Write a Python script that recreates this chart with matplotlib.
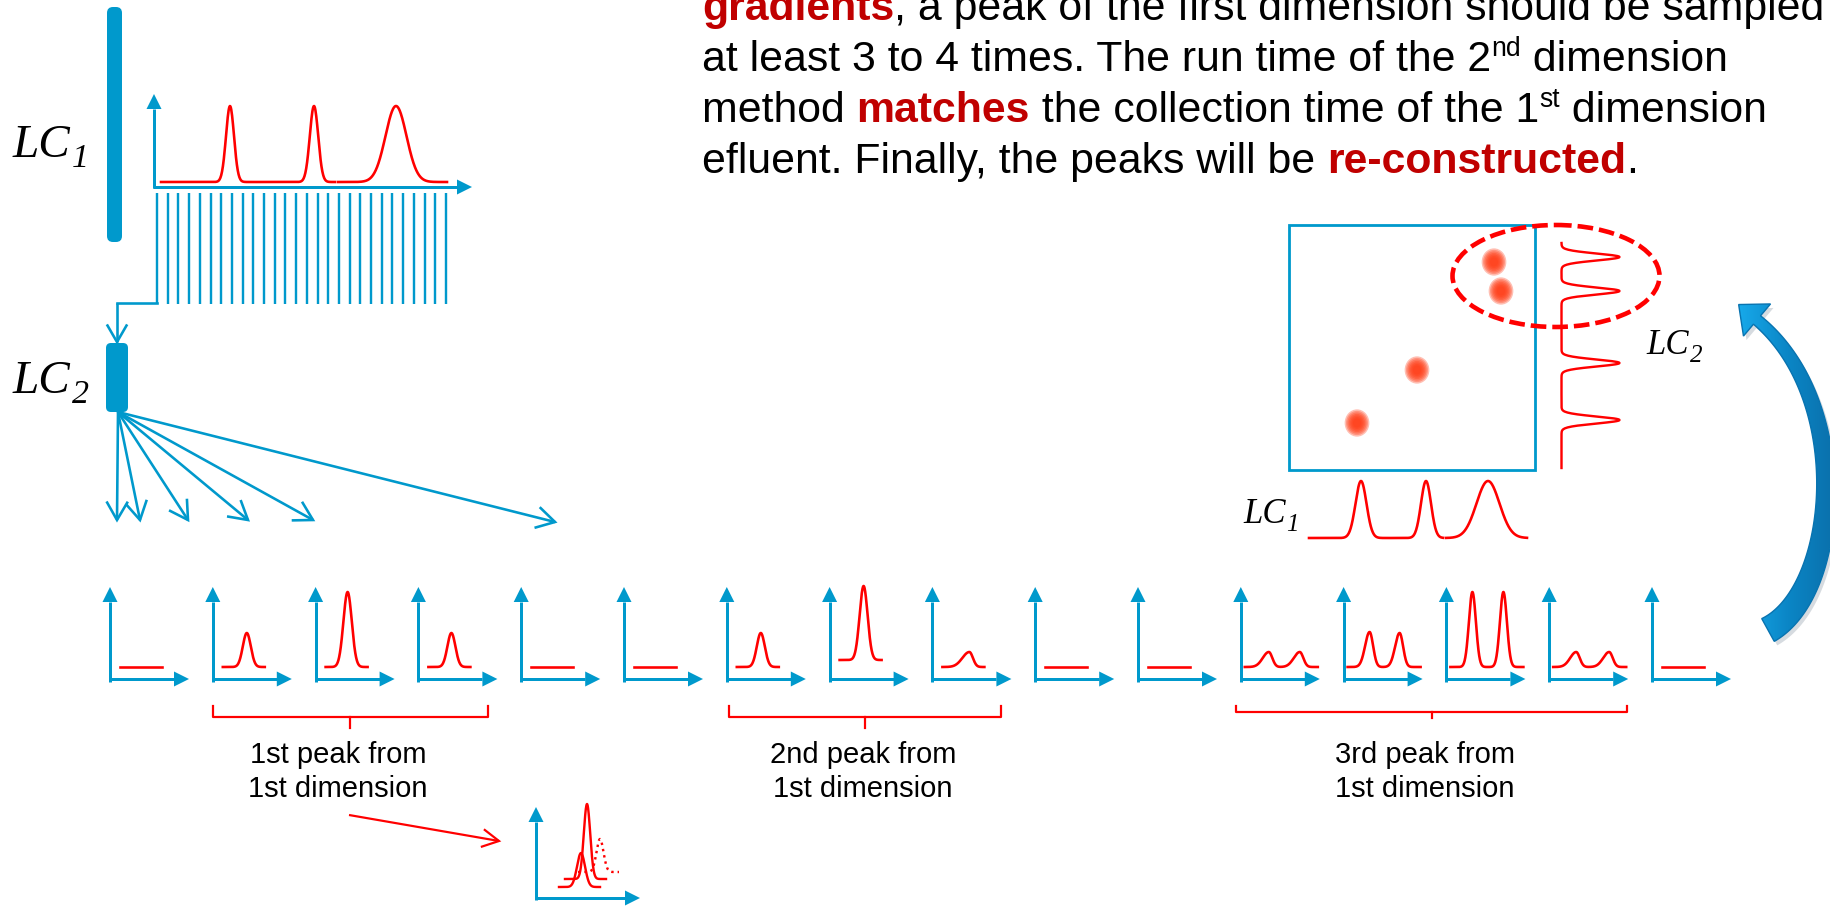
import numpy as np
import matplotlib.pyplot as plt
from matplotlib.patches import Polygon, FancyBboxPatch, Rectangle, Ellipse
from matplotlib.colors import LinearSegmentedColormap

# ---------------- data ----------------
# first dimension trace: peak positions, widths (left LC1 trace)
lc1_rt = [230, 314, 396]
lc1_sigma = [4.0, 4.2, 10.5]
lc1_height = [76, 76, 76]

# reconstructed 2D map: spot positions (LC1, LC2)
spot_lc1 = [1494, 1501, 1417, 1357]
spot_lc2 = [262, 291, 370, 423]
# projections of the 2D map
proj1_rt = [1361, 1426, 1488]
proj1_sigma = [5.5, 5.0, 11.5]
proj2_rt = [257, 291, 363, 420]

# second dimension runs: (position in run, height, sigma left, sigma right)
fraction_peaks = [
    [],
    [(34, 34, 4.0, 4.0)],
    [(32, 75, 4.2, 4.2)],
    [(33, 34, 4.0, 4.0)],
    [],
    [],
    [(34, 34, 4.0, 4.0)],
    [(34, 74, 4.0, 4.0)],
    [(37, 15, 7.0, 3.5)],
    [],
    [],
    [(28, 15, 6.0, 3.5), (59, 15, 6.0, 3.5)],
    [(26, 35, 4.5, 3.5), (56, 34, 4.5, 3.5)],
    [(26, 75, 3.5, 3.5), (57, 75, 3.5, 3.5)],
    [(27, 15, 6.0, 3.5), (60, 15, 6.0, 3.5)],
    [],
]
baseline_shift = [0, 0, 0, 0, 0, 0, 0, 7, 0, 0, 0, 0, 0, 0, 0, 0]

group_labels = [('1st peak from', '1st dimension'),
                ('2nd peak from', '1st dimension'),
                ('3rd peak from', '1st dimension')]

# overlaid peaks in the small panel (position, height, sigma, baseline, style)
merged_peaks = [(51, 75, 3.2, 19, '-'), (45, 34, 4.0, 11, '-'), (64, 33, 3.5, 26, ':')]

top_lines = [
    [('gradients', 'b'), (', a peak of the first dimension should be sampled', 'n')],
    [('at least 3 to 4 times. The run time of the 2', 'n'), ('nd', 'sup'), (' dimension', 'n')],
    [('method ', 'n'), ('matches', 'b'), (' the collection time of the 1', 'n'),
     ('st', 'sup'), (' dimension', 'n')],
    [('efluent. Finally, the peaks will be ', 'n'), ('re-constructed', 'b'), ('.', 'n')],
]

# ---------------- setup ----------------
W, H = 1831, 907
BLUE = '#0099CC'
RED = '#FF0000'
DARKRED = '#C00000'
PX = 0.72  # points per pixel at 100 dpi

fig = plt.figure(figsize=(W / 100, H / 100), dpi=100)
ax = fig.add_axes([0, 0, 1, 1])
ax.axis('off')
renderer = fig.canvas.get_renderer()


def trace(x, peaks):
    y = np.zeros_like(x)
    for c, h, a, b in peaks:
        s = np.where(x < c, a, b)
        y = y + h * np.exp(-0.5 * ((x - c) / s) ** 2)
    return y


def axis_arrow(x0, y0, x1, y1, lw=3.0, head=15, width=15, color=BLUE):
    d = np.array([x1 - x0, y1 - y0], float)
    u = d / np.hypot(*d)
    n = np.array([-u[1], u[0]])
    b = np.array([x1, y1]) - u * head
    ax.plot([x0, b[0]], [y0, b[1]], color=color, lw=lw * PX, solid_capstyle='butt')
    ax.add_patch(Polygon([(x1, y1), b + n * width / 2, b - n * width / 2],
                         closed=True, fc=color, ec='none'))


def open_arrow(x0, y0, x1, y1, color=BLUE, lw=2.6, arm=20, ang=30):
    ax.plot([x0, x1], [y0, y1], color=color, lw=lw * PX, solid_capstyle='butt')
    a = np.arctan2(y0 - y1, x0 - x1)
    pts = [(x1 + arm * np.cos(a + np.radians(ang)), y1 + arm * np.sin(a + np.radians(ang))),
           (x1, y1),
           (x1 + arm * np.cos(a - np.radians(ang)), y1 + arm * np.sin(a - np.radians(ang)))]
    xs, ys = zip(*pts)
    ax.plot(xs, ys, color=color, lw=lw * PX, solid_joinstyle='miter')


def advance(s, **kw):
    t1 = ax.text(0, 0, s + '|', **kw)
    t2 = ax.text(0, 0, '|', **kw)
    w = t1.get_window_extent(renderer).width - t2.get_window_extent(renderer).width
    t1.remove()
    t2.remove()
    return w


def rich_line(x, y, pieces, size):
    for s, kind in pieces:
        kw = dict(fontsize=size, family='Liberation Sans', color='black')
        dy = 0
        if kind == 'b':
            kw.update(color=DARKRED, weight='bold')
        elif kind == 'sup':
            kw.update(fontsize=size * 0.62)
            dy = -0.34 * size / PX
        ax.text(x, y + dy, s, va='baseline', ha='left', **kw)
        x += advance(s, **kw)


def lc_label(x, y, sub, size):
    kw = dict(family='Liberation Serif', style='italic', color='black')
    ax.text(x, y, 'LC', fontsize=size, va='baseline', ha='left', **kw)
    w = advance('LC', fontsize=size, **kw)
    ax.text(x + w + 1, y + 0.22 * size / PX, sub, fontsize=size * 0.72,
            va='baseline', ha='left', **kw)


# ---------------- top text ----------------
for i, pieces in enumerate(top_lines):
    rich_line(702, 20 + i * 50.9, pieces, 30.8)

# ---------------- LC1 column and trace ----------------
ax.add_patch(FancyBboxPatch((107, 7), 15, 235, boxstyle='round,pad=0,rounding_size=6',
                            fc=BLUE, ec='none'))
lc_label(13, 157, '1', 34)
axis_arrow(154, 188, 154, 94)
axis_arrow(153, 187, 472, 187)
lc1 = list(zip(lc1_rt, lc1_height, lc1_sigma, lc1_sigma))
for a, b in [(161, 335), (338, 447)]:
    xs = np.linspace(a, b, 400)
    ax.plot(xs, 182 - trace(xs, lc1), color=RED, lw=2.6 * PX)

# fraction collection comb
ax.vlines(np.linspace(157, 446, 28), 193, 304, color=BLUE, lw=2.4 * PX)
ax.plot([157, 117], [303, 303], color=BLUE, lw=2.6 * PX)
open_arrow(117, 303, 117, 342, arm=19)

# ---------------- LC2 column and fan ----------------
ax.add_patch(FancyBboxPatch((106, 343), 22, 69, boxstyle='round,pad=0,rounding_size=5',
                            fc=BLUE, ec='none'))
lc_label(13, 393, '2', 34)
for ex, ey in [(117, 520), (140, 520), (188, 520), (248, 520), (313, 520), (555, 522)]:
    open_arrow(118, 412, ex, ey, arm=20)

# ---------------- second dimension runs ----------------
x0, dx, oy = 110, 102.8, 680
for i, peaks in enumerate(fraction_peaks):
    px = x0 + i * dx
    axis_arrow(px, oy + 1.5, px, oy - 93)
    axis_arrow(px - 1, oy - 1, px + 79, oy - 1)
    lo, hi = (4, 77) if len(peaks) == 2 else (10, 52)
    xs = np.linspace(px + lo, px + hi, 300)
    bl = oy - 13 - baseline_shift[i]
    shifted = [(px + c, h, a, b) for c, h, a, b in peaks]
    ax.plot(xs, bl - trace(xs, shifted), color=RED, lw=2.6 * PX)

# brackets
brackets = [(213, 488, 706, 717, 350, 728), (729, 1001, 706, 717, 865, 728),
            (1236, 1627, 706, 712, 1432, 718)]
for l, r, top, mid, c, bot in brackets:
    ax.plot([l, l, r, r], [top, mid, mid, top], color=RED, lw=2.2 * PX)
    ax.plot([c, c], [mid, bot], color=RED, lw=2.2 * PX)
for (l1, l2), cx in zip(group_labels, [338, 863, 1425]):
    ax.text(cx, 763, l1, fontsize=21, family='Liberation Sans', ha='center', va='baseline')
    ax.text(cx, 797, l2, fontsize=21, family='Liberation Sans', ha='center', va='baseline')

# ---------------- overlaid peaks panel ----------------
open_arrow(349, 815, 499, 841, color=RED, lw=2.2, arm=18, ang=28)
axis_arrow(536, 899.5, 536, 807)
axis_arrow(535, 898, 640, 898)
for c, h, s, b, ls in merged_peaks:
    xs = np.linspace(536 + c - 22, 536 + c + 19, 200)
    ax.plot(xs, 898 - b - trace(xs, [(536 + c, h, s, s)]), color=RED, lw=2.4 * PX,
            linestyle=ls)

# ---------------- reconstructed 2D map ----------------
ax.add_patch(Rectangle((1289, 225), 246, 245, fill=False, ec=BLUE, lw=2.8 * PX))
for sx, sy in zip(spot_lc1, spot_lc2):
    for k in range(7):
        r = 13 * (1 - k / 9)
        ax.add_patch(Ellipse((sx, sy), 2 * r * 0.95, 2 * r * 1.05, fc='#FF3A14', ec='none',
                             alpha=0.32, zorder=3))
ax.add_patch(Ellipse((1556, 276), 207, 102, fill=False, ec=RED, lw=4.6 * PX,
                     linestyle=(0, (3.4, 1.3)), zorder=5))
ys = np.linspace(243, 468, 500)
p2 = [(c, 58, 3.5, 3.5) for c in proj2_rt]
ax.plot(1561.5 + trace(ys, p2), ys, color=RED, lw=2.4 * PX)
lc_label(1646, 354, '2', 25)
p1 = [(c, 57, s, s) for c, s in zip(proj1_rt, proj1_sigma)]
for a, b in [(1309, 1443), (1446, 1527)]:
    xs = np.linspace(a, b, 400)
    ax.plot(xs, 538 - trace(xs, p1), color=RED, lw=2.6 * PX)
lc_label(1243, 523, '1', 25)

# ---------------- curved return arrow ----------------
P = np.array([(1768, 630), (1840, 592), (1854, 400), (1757, 320)], float)
t = np.linspace(0, 1, 120)[:, None]
c = (1 - t) ** 3 * P[0] + 3 * (1 - t) ** 2 * t * P[1] + 3 * (1 - t) * t ** 2 * P[2] + t ** 3 * P[3]
d = np.gradient(c, axis=0)
d /= np.hypot(d[:, 0], d[:, 1])[:, None]
n = np.column_stack([-d[:, 1], d[:, 0]])
hw = np.linspace(13, 5.5, len(c))[:, None]
tip = c[-1] + d[-1] * 24
outline = np.vstack([c + n * hw, [c[-1] + n[-1] * 21], [tip], [c[-1] - n[-1] * 21],
                     (c - n * hw)[::-1]])
ax.add_patch(Polygon(outline + [3, 4], closed=True, fc='#7a8a99', ec='none', alpha=0.3))
body = Polygon(outline, closed=True, fc='none', ec='#0873B0', lw=1.0, zorder=4)
ax.add_patch(body)
(xa, ya), (xb, yb) = outline.min(0), outline.max(0)
shade = LinearSegmentedColormap.from_list('shade', ['#17A9EA', '#0B86C6', '#0A6FAA'])
im = ax.imshow(np.linspace(0, 1, 256)[None, :], extent=(xa, xb, yb, ya), cmap=shade,
               aspect='auto', zorder=3)
im.set_clip_path(body)

ax.set_xlim(0, W)
ax.set_ylim(H, 0)
fig.savefig('out.png', dpi=100)
